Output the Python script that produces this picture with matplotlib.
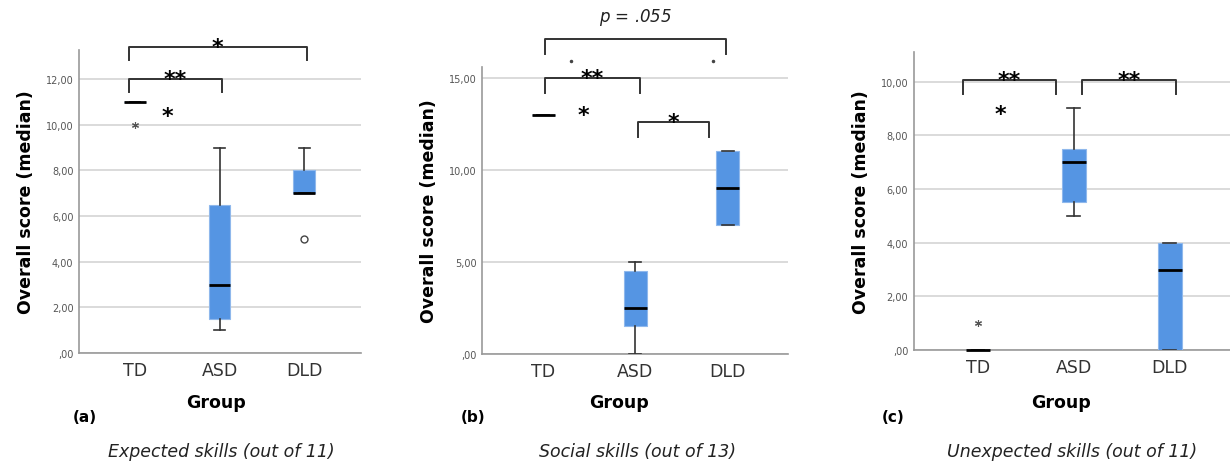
import matplotlib
matplotlib.use("Agg")
import matplotlib.pyplot as plt
from matplotlib.ticker import FuncFormatter

groups = ["TD", "ASD", "DLD"]

# box summaries per panel: (q1, median, q3, whisker low, whisker high)
expected_stats = [(11, 11, 11, 11, 11), (1.5, 3, 6.5, 1, 9), (7, 7, 8, 7, 9)]
social_stats = [(13, 13, 13, 13, 13), (1.5, 2.5, 4.5, 0, 5), (7, 9, 11, 7, 11)]
unexpected_stats = [(0, 0, 0, 0, 0), (5.5, 7, 7.5, 5, 9), (0, 3, 4, 0, 4)]

# outliers: (group position, value, marker)
expected_outliers = [(1, 10, "*"), (3, 5, "o")]
social_outliers = []
unexpected_outliers = [(1, 1, "*")]

# significance brackets: (left end, right end, height, label), ends in group units
expected_brackets = [(0.93, 3.03, 13.4, "*"), (0.93, 2.03, 12.0, "**")]
social_brackets = [(1.02, 2.98, 17.1, "$p$ = .055"), (1.02, 2.05, 15.0, "**"), (2.03, 2.8, 12.6, "*")]
unexpected_brackets = [(0.85, 1.81, 10.05, "**"), (2.09, 3.07, 10.05, "**")]

# loose star notes inside plots: (x in group units, y)
expected_notes = [(1.38, 10.4)]
social_notes = [(1.43, 13.0)]
unexpected_notes = [(1.23, 8.8)]

# stray dots in panel (b)
social_dots = [(1.3, 15.9), (2.84, 15.9)]

panels = [
    dict(stats=expected_stats, outliers=expected_outliers, brackets=expected_brackets,
         notes=expected_notes, dots=[], ymax=13.27, yticks=[0, 2, 4, 6, 8, 10, 12],
         xlim=(0.337, 3.67), rect=[0.0642, 0.237, 0.229, 0.653], leg=0.55,
         letter="(a)", letter_x=0.069, group_x=0.176, sub="Expected skills (out of 11)", sub_x=0.180),
    dict(stats=social_stats, outliers=social_outliers, brackets=social_brackets,
         notes=social_notes, dots=social_dots, ymax=15.6, yticks=[0, 5, 10, 15],
         xlim=(0.337, 3.66), rect=[0.392, 0.235, 0.249, 0.619], leg=0.8,
         letter="(b)", letter_x=0.385, group_x=0.503, sub="Social skills (out of 13)", sub_x=0.518),
    dict(stats=unexpected_stats, outliers=unexpected_outliers, brackets=unexpected_brackets,
         notes=unexpected_notes, dots=[], ymax=11.1, yticks=[0, 2, 4, 6, 8, 10],
         xlim=(0.333, 3.63), rect=[0.743, 0.2435, 0.257, 0.642], leg=0.5,
         letter="(c)", letter_x=0.726, group_x=0.863, sub="Unexpected skills (out of 11)", sub_x=0.872),
]

blue = "#5595e3"
dark = "#333333"


def fmt(v, pos):
    s = f"{v:.2f}".replace(".", ",")
    return s[1:] if s.startswith("0") else s


fig = plt.figure(figsize=(12.3, 4.64), dpi=100)

for p in panels:
    ax = fig.add_axes(p["rect"])
    bstats = []
    for i, (q1, med, q3, lo, hi) in enumerate(p["stats"]):
        bstats.append(dict(q1=q1, med=med, q3=q3, whislo=lo, whishi=hi, fliers=[], label=groups[i]))
    parts = ax.bxp(bstats, positions=[1, 2, 3], widths=0.25, patch_artist=True, showfliers=False,
                   boxprops=dict(facecolor=blue, edgecolor="#8fb8ec", linewidth=0.8),
                   medianprops=dict(color="black", linewidth=2),
                   whiskerprops=dict(color=dark, linewidth=1.2),
                   capprops=dict(color=dark, linewidth=1.2), capwidths=0.13, zorder=3)
    for m in parts["medians"]:
        m.set_clip_on(False)
        m.set_zorder(4)

    for gx, val, mk in p["outliers"]:
        if mk == "o":
            ax.plot(gx, val, marker="o", mfc="white", mec="#444444", ms=5, mew=1, zorder=4)
        else:
            ax.plot(gx, val, marker=(6, 2, 0), color="#555555", ms=5, mew=0.8, zorder=4)

    for xa, xb, h, lab in p["brackets"]:
        ax.plot([xa, xa, xb, xb], [h - p["leg"], h, h, h - p["leg"]], color=dark,
                lw=1.4, clip_on=False, solid_joinstyle="round", zorder=5)
        if lab.startswith("*"):
            ax.annotate(lab, ((xa + xb) / 2, h), xytext=(0, -7), textcoords="offset points",
                        ha="center", va="bottom", fontsize=16, fontweight="bold",
                        annotation_clip=False, zorder=6)
        else:
            ax.annotate(lab, ((xa + xb) / 2, h), xytext=(0, 9), textcoords="offset points",
                        ha="center", va="bottom", fontsize=12, style="italic", color="#222222",
                        annotation_clip=False)

    for nx, ny in p["notes"]:
        ax.text(nx, ny, "*", ha="center", va="center", fontsize=16, fontweight="bold")
    for dx, dy in p["dots"]:
        ax.plot(dx, dy, "o", ms=1.5, color="#444444", clip_on=False)

    ax.set_xlim(*p["xlim"])
    ax.set_ylim(0, p["ymax"])
    ax.set_yticks(p["yticks"])
    ax.yaxis.set_major_formatter(FuncFormatter(fmt))
    ax.tick_params(axis="y", length=0, labelsize=7, labelcolor="#555555", pad=4)
    ax.tick_params(axis="x", length=0, labelsize=12.5, labelcolor="#333333", pad=6)
    ax.set_xticks([1, 2, 3])
    ax.set_xticklabels(groups)
    ax.grid(axis="y", color="#d4d4d4", lw=1.2, zorder=0)
    ax.set_axisbelow(True)
    for s in ["top", "right"]:
        ax.spines[s].set_visible(False)
    for s in ["left", "bottom"]:
        ax.spines[s].set_color("#999999")
        ax.spines[s].set_linewidth(1.2)
    ax.set_ylabel("Overall score (median)", fontsize=12.5, fontweight="bold", labelpad=8)

    fig.text(p["group_x"], 0.132, "Group", ha="center", va="center", fontsize=12.5, fontweight="bold")
    fig.text(p["letter_x"], 0.10, p["letter"], ha="center", va="center", fontsize=11, fontweight="bold")
    fig.text(p["sub_x"], 0.026, p["sub"], ha="center", va="center", fontsize=12.5, style="italic",
             color="#222222")

fig.savefig("out.png", dpi=100)
